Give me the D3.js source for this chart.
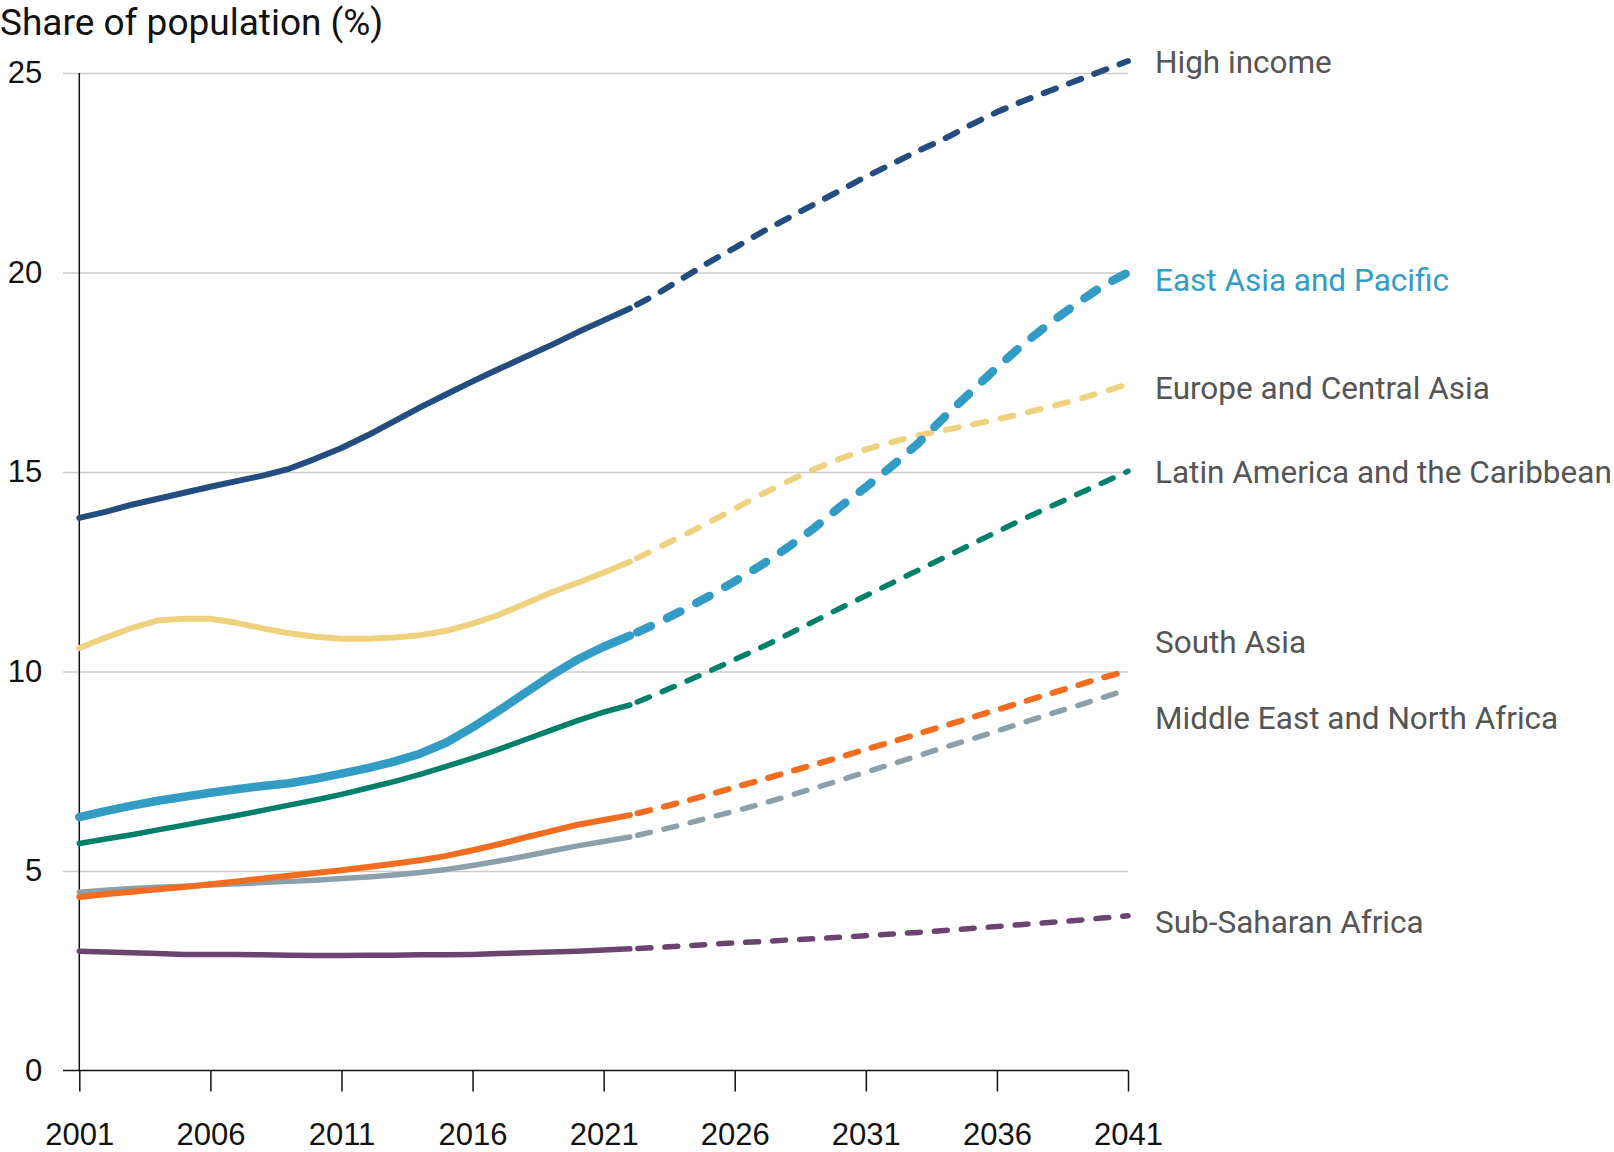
<!DOCTYPE html>
<html>
<head>
<meta charset="utf-8">
<script src="https://cdn.jsdelivr.net/npm/d3@7"></script>
<style>
  body { margin: 0; background: #fff; }
  svg { font-family: Roboto, "Noto Sans", sans-serif; display: block; }
  .grid line { stroke: #cccccc; stroke-width: 1.5; }
  .grid path { display: none; }
  .axis path, .axis line { stroke: #111; stroke-width: 1.5; }
  .axis text { fill: #111; font-size: 31px; }
  .label { font-size: 31.5px; fill: #555; }
</style>
</head>
<body>
<div id="chart"></div>
<script>
var years = d3.range(2001, 2042);
var xTicks = [2001, 2006, 2011, 2016, 2021, 2026, 2031, 2036, 2041];
var yTicks = [0, 5, 10, 15, 20, 25];
var lastActual = 2022;

var highIncome = [13.85, 14.0, 14.18, 14.33, 14.48, 14.63, 14.77, 14.91, 15.08, 15.33,
  15.6, 15.92, 16.27, 16.62, 16.95, 17.27, 17.58, 17.88, 18.18, 18.5,
  18.8, 19.1, 19.45, 19.85, 20.25, 20.62, 21.0, 21.35, 21.7, 22.05,
  22.4, 22.72, 23.05, 23.35, 23.7, 24.02, 24.3, 24.55, 24.8, 25.05, 25.3];
var eastAsia = [6.35, 6.5, 6.64, 6.76, 6.86, 6.96, 7.05, 7.13, 7.2, 7.31,
  7.44, 7.58, 7.74, 7.94, 8.22, 8.6, 9.02, 9.46, 9.9, 10.3,
  10.62, 10.9, 11.2, 11.53, 11.88, 12.26, 12.66, 13.1, 13.58, 14.12,
  14.62, 15.15, 15.72, 16.38, 17.0, 17.62, 18.2, 18.72, 19.2, 19.65, 20.0];
var europe = [10.59, 10.85, 11.09, 11.28, 11.32, 11.32, 11.22, 11.08, 10.96, 10.87,
  10.82, 10.82, 10.85, 10.91, 11.02, 11.2, 11.42, 11.7, 11.98, 12.22,
  12.48, 12.75, 13.08, 13.4, 13.73, 14.08, 14.43, 14.76, 15.06, 15.33,
  15.57, 15.75, 15.92, 16.05, 16.18, 16.32, 16.47, 16.63, 16.8, 17.0, 17.2];
var latinAmerica = [5.69, 5.8, 5.91, 6.03, 6.15, 6.27, 6.39, 6.52, 6.65, 6.78,
  6.92, 7.08, 7.24, 7.42, 7.62, 7.83, 8.05, 8.29, 8.53, 8.77,
  8.98, 9.16, 9.43, 9.71, 10.0, 10.3, 10.6, 10.92, 11.25, 11.58,
  11.9, 12.22, 12.54, 12.86, 13.18, 13.5, 13.82, 14.12, 14.42, 14.72, 15.02];
var southAsia = [4.35, 4.42, 4.48, 4.54, 4.6, 4.67, 4.74, 4.81, 4.88, 4.95,
  5.02, 5.1, 5.18, 5.27, 5.38, 5.52, 5.67, 5.84, 6.0, 6.16,
  6.28, 6.4, 6.56, 6.73, 6.91, 7.1, 7.28, 7.47, 7.66, 7.85,
  8.05, 8.24, 8.44, 8.64, 8.84, 9.04, 9.24, 9.44, 9.64, 9.84, 10.02];
var mena = [4.47, 4.52, 4.56, 4.59, 4.62, 4.65, 4.68, 4.71, 4.74, 4.77,
  4.81, 4.85, 4.9, 4.96, 5.04, 5.14, 5.25, 5.37, 5.5, 5.63,
  5.74, 5.85, 6.0, 6.16, 6.33, 6.5, 6.68, 6.87, 7.07, 7.27,
  7.48, 7.68, 7.89, 8.1, 8.3, 8.51, 8.72, 8.93, 9.13, 9.34, 9.55];
var subSaharan = [2.99, 2.97, 2.95, 2.93, 2.91, 2.91, 2.91, 2.9, 2.89, 2.88,
  2.88, 2.89, 2.89, 2.9, 2.9, 2.91, 2.93, 2.95, 2.97, 2.99,
  3.02, 3.05, 3.08, 3.12, 3.16, 3.2, 3.23, 3.27, 3.3, 3.34,
  3.38, 3.42, 3.46, 3.51, 3.56, 3.61, 3.66, 3.71, 3.76, 3.82, 3.88];

var seriesNames = ["Sub-Saharan Africa", "Middle East and North Africa", "South Asia",
  "Latin America and the Caribbean", "Europe and Central Asia", "East Asia and Pacific", "High income"];
var seriesValues = [subSaharan, mena, southAsia, latinAmerica, europe, eastAsia, highIncome];
var seriesColors = ["#6b4470", "#8ba0aa", "#f36d21", "#00806a", "#efd27f", "#329cc4", "#234c7f"];
var lineWidths = [5.5, 5.5, 6, 5.5, 6, 8.5, 6];
var dashes = ["13,14", "13,14", "13,14", "13,14", "13,15", "15,18", "13,14"];
var labelY = [922, 718, 642, 472, 388, 280, 62];

var width = 1614, height = 1152;
var svg = d3.select("#chart").append("svg")
  .attr("width", width)
  .attr("height", height);

var x = d3.scaleLinear().domain([2001, 2041]).range([79.3, 1128]);
var y = d3.scaleLinear().domain([0, 25]).range([1070.5, 73]);

// title
svg.append("text")
  .attr("x", 0)
  .attr("y", 35)
  .attr("font-size", 37)
  .attr("fill", "#111")
  .text("Share of population (%)");

// gridlines
svg.append("g")
  .attr("class", "grid")
  .attr("transform", "translate(63,0)")
  .call(d3.axisRight(y).tickValues(yTicks.slice(1)).tickSize(1128 - 63).tickFormat(""));

// y axis
svg.append("g")
  .attr("class", "axis")
  .attr("transform", "translate(" + x(2001) + ",0)")
  .call(d3.axisLeft(y).tickValues(yTicks).tickSize(0).tickPadding(37).tickFormat(d3.format("d")))
  .call(function(g) { g.select(".domain").attr("d", "M0," + y(25) + "V" + y(0)); });

// x axis
svg.append("g")
  .attr("class", "axis")
  .attr("transform", "translate(0," + y(0) + ")")
  .call(d3.axisBottom(x).tickValues(xTicks).tickSize(21).tickPadding(31).tickFormat(d3.format("d")))
  .call(function(g) { g.select(".domain").attr("d", "M63,0H" + x(2041)); });

var line = d3.line()
  .x(function(d) { return x(d.year); })
  .y(function(d) { return y(d.value); });

seriesValues.forEach(function(vals, i) {
  var pts = years.map(function(yr, j) { return {year: yr, value: vals[j]}; });
  var actual = pts.filter(function(d) { return d.year <= lastActual; });
  var projected = pts.filter(function(d) { return d.year >= lastActual; });

  svg.append("path")
    .datum(actual)
    .attr("fill", "none")
    .attr("stroke", seriesColors[i])
    .attr("stroke-width", lineWidths[i])
    .attr("stroke-linecap", "round")
    .attr("stroke-linejoin", "round")
    .attr("d", line);

  svg.append("path")
    .datum(projected)
    .attr("fill", "none")
    .attr("stroke", seriesColors[i])
    .attr("stroke-width", lineWidths[i])
    .attr("stroke-linecap", "round")
    .attr("stroke-dasharray", dashes[i])
    .attr("stroke-dashoffset", -8)
    .attr("d", line);

  svg.append("text")
    .attr("class", "label")
    .attr("x", 1155)
    .attr("y", labelY[i])
    .attr("dy", "0.35em")
    .style("fill", seriesNames[i] === "East Asia and Pacific" ? seriesColors[i] : null)
    .text(seriesNames[i]);
});
</script>
</body>
</html>
